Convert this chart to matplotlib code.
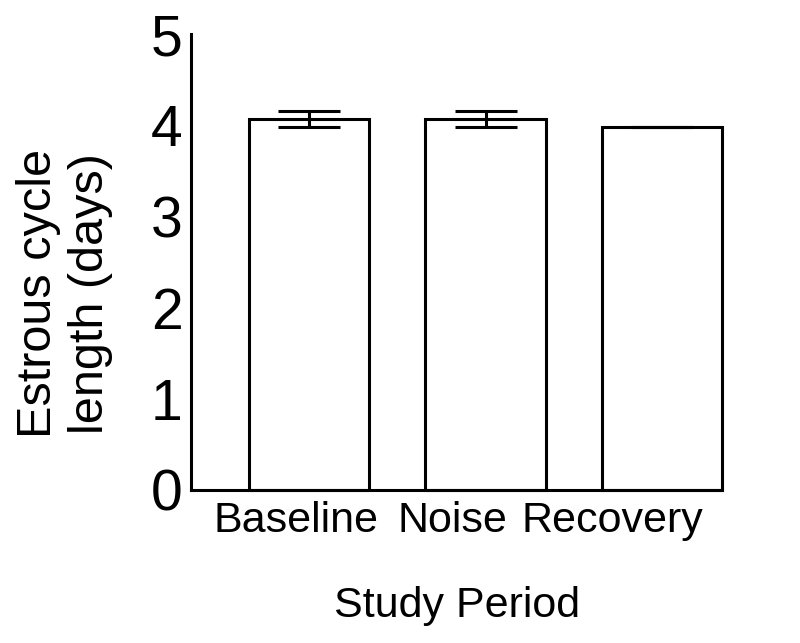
import matplotlib
matplotlib.use("Agg")
from matplotlib import pyplot as plt

periods = ["Baseline", "Noise", "Recovery"]
cycle_length = [4.07, 4.07, 3.98]
cycle_sem = [0.09, 0.09, 0.0]
# the labels sit a little left of the bar centres in the original
label_pos = [-0.07, 0.81, 1.72]

plt.rcParams["font.family"] = ["Liberation Sans", "DejaVu Sans"]

fig = plt.figure(figsize=(8, 6.43), dpi=100)
ax = fig.add_axes([0.239, 0.238, 0.664, 0.709])

x = range(len(periods))
bars = ax.bar(x, cycle_length, width=0.68, color="white", edgecolor="black", linewidth=2.2)
for b in bars:
    b.set_clip_on(False)
ax.errorbar(x, cycle_length, yerr=cycle_sem, fmt="none", ecolor="black",
            elinewidth=2.2, capsize=22, capthick=2.2)

ax.set_xlim(-0.665, 2.34)
ax.set_ylim(0, 5)
ax.set_yticks([0, 1, 2, 3, 4, 5])
ax.set_xticks(label_pos)
ax.set_xticklabels(periods, fontsize=31)
ax.tick_params(axis="y", labelsize=41, length=0, pad=6)
ax.tick_params(axis="x", length=0, pad=8)

for side in ["top", "right"]:
    ax.spines[side].set_visible(False)
for side in ["left", "bottom"]:
    ax.spines[side].set_linewidth(2.2)

ax.text(-0.238, 0.43, "Estrous cycle\nlength (days)", transform=ax.transAxes,
        rotation=90, ha="center", va="center", fontsize=35, linespacing=1.2,
        multialignment="center")
ax.set_xlabel("Study Period", fontsize=31, labelpad=32)

fig.savefig("out.png", dpi=100)
